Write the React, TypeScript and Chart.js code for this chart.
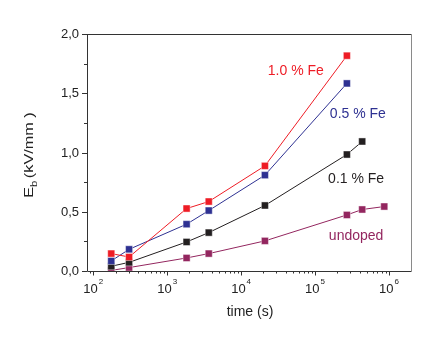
import React, { useEffect, useRef } from "react";
import { Chart, registerables } from "chart.js";

Chart.register(...registerables);

// ---- data ----
const timesRed = [175, 305, 1830, 3650, 21000, 270000];
const valuesRed = [0.147, 0.118, 0.527, 0.586, 0.887, 1.817];
const timesBlue = [175, 305, 1830, 3650, 21000, 270000];
const valuesBlue = [0.085, 0.183, 0.395, 0.51, 0.809, 1.583];
const timesBlack = [175, 305, 1830, 3650, 21000, 270000, 435000];
const valuesBlack = [0.04, 0.073, 0.245, 0.324, 0.553, 0.983, 1.093];
const timesUndoped = [175, 305, 1830, 3650, 21000, 270000, 435000, 865000];
const valuesUndoped = [0.005, 0.029, 0.11, 0.147, 0.254, 0.473, 0.519, 0.544];

const seriesNames = ["1.0 % Fe", "0.5 % Fe", "0.1 % Fe", "undoped"];
const seriesColors = ["#ee1c25", "#2e3192", "#231f20", "#93265f"];
// label anchors in data coordinates [time, value]
const labelAnchors: [number, number][] = [
  [55000, 1.69],
  [380000, 1.322],
  [360000, 0.776],
  [360000, 0.29],
];

const yTicks = [0, 0.5, 1.0, 1.5, 2.0];
const yTickLabels = ["0,0", "0,5", "1,0", "1,5", "2,0"];
const xDecades = [2, 3, 4, 5, 6];
const xMin = 82.2;
const xMax = 1.99e6;
const yMin = 0;
const yMax = 2.0;

const FONT = '"Liberation Sans", Arial, sans-serif';

const toPoints = (t: number[], v: number[]) => t.map((x, i) => ({ x, y: v[i] }));

const decorPlugin = {
  id: "decor",
  afterDatasetsDraw(chart: any) {
    const ctx: CanvasRenderingContext2D = chart.ctx;
    const { left, right, top, bottom } = chart.chartArea;
    const xs = chart.scales.x;
    const ys = chart.scales.y;
    ctx.save();
    ctx.lineWidth = 1;
    // frame
    ctx.strokeStyle = "#333";
    ctx.beginPath();
    ctx.moveTo(left + 0.5, top + 0.5);
    ctx.lineTo(right + 0.5, top + 0.5);
    ctx.moveTo(left + 0.5, top);
    ctx.lineTo(left + 0.5, bottom + 0.5);
    ctx.lineTo(right + 0.5, bottom + 0.5);
    ctx.stroke();
    ctx.strokeStyle = "#8a8a8a";
    ctx.beginPath();
    ctx.moveTo(right + 0.5, top);
    ctx.lineTo(right + 0.5, bottom + 0.5);
    ctx.stroke();

    // y ticks
    ctx.strokeStyle = "#333";
    ctx.fillStyle = "#222";
    ctx.font = `13px ${FONT}`;
    ctx.textAlign = "right";
    ctx.textBaseline = "middle";
    ctx.beginPath();
    for (let v = yMin; v <= yMax + 1e-9; v += 0.25) {
      const py = Math.round(ys.getPixelForValue(v)) + 0.5;
      const major = Math.abs(v * 2 - Math.round(v * 2)) < 1e-6;
      ctx.moveTo(left - (major ? 5 : 3), py);
      ctx.lineTo(left, py);
    }
    ctx.stroke();
    yTicks.forEach((v, i) => {
      const py = ys.getPixelForValue(v);
      ctx.fillText(yTickLabels[i], left - 8, py + 0.5);
    });

    // x ticks
    ctx.beginPath();
    for (let k = 1; k <= 6; k++) {
      for (let m = 1; m <= 9; m++) {
        const val = m * Math.pow(10, k);
        if (val < xMin || val > xMax) continue;
        const px = Math.round(xs.getPixelForValue(val)) + 0.5;
        ctx.moveTo(px, bottom);
        ctx.lineTo(px, bottom + (m === 1 ? 4.5 : 2.5));
      }
    }
    ctx.stroke();
    ctx.textBaseline = "alphabetic";
    ctx.textAlign = "left";
    xDecades.forEach((d) => {
      const px = xs.getPixelForValue(Math.pow(10, d));
      ctx.font = `13px ${FONT}`;
      const wBase = ctx.measureText("10").width;
      ctx.font = `8px ${FONT}`;
      const wExp = ctx.measureText(String(d)).width;
      const start = px - (wBase + wExp + 1) / 2;
      ctx.font = `13px ${FONT}`;
      ctx.fillText("10", start, bottom + 22);
      ctx.font = `8px ${FONT}`;
      ctx.fillText(String(d), start + wBase + 1, bottom + 13);
    });

    // axis titles
    ctx.font = `14px ${FONT}`;
    ctx.textAlign = "center";
    ctx.textBaseline = "middle";
    ctx.fillText("time (s)", (left + right) / 2 + 1, bottom + 41);

    ctx.save();
    ctx.translate(33, 155);
    ctx.rotate(-Math.PI / 2);
    ctx.scale(1.25, 1);
    ctx.textAlign = "left";
    ctx.textBaseline = "alphabetic";
    ctx.font = `13px ${FONT}`;
    const wE = ctx.measureText("E").width;
    const rest = "(kV/mm )";
    const wRest = ctx.measureText(rest).width;
    ctx.font = `9px ${FONT}`;
    const wb = ctx.measureText("b").width;
    const total = wE + wb + 2 + wRest;
    const startX = -total / 2;
    ctx.font = `13px ${FONT}`;
    ctx.fillText("E", startX, 0);
    ctx.font = `9px ${FONT}`;
    ctx.fillText("b", startX + wE, 4);
    ctx.font = `13px ${FONT}`;
    ctx.fillText(rest, startX + wE + wb + 2, 0);
    ctx.restore();

    // series labels
    ctx.font = `14px ${FONT}`;
    ctx.textAlign = "center";
    ctx.textBaseline = "middle";
    seriesNames.forEach((name, i) => {
      ctx.fillStyle = seriesColors[i];
      const [tx, ty] = labelAnchors[i];
      ctx.fillText(name, xs.getPixelForValue(tx), ys.getPixelForValue(ty));
    });
    ctx.restore();
  },
};

export default function App() {
  const ref = useRef<HTMLCanvasElement | null>(null);
  useEffect(() => {
    document.body.style.margin = "0";
    if (!ref.current) return;
    const mk = (i: number, t: number[], v: number[]) => ({
      label: seriesNames[i],
      data: toPoints(t, v),
      borderColor: seriesColors[i],
      backgroundColor: seriesColors[i],
      borderWidth: 1,
      pointStyle: "rect",
      pointRadius: 5,
      pointHoverRadius: 5,
      pointBackgroundColor: seriesColors[i],
      pointBorderColor: "rgba(255,255,255,0.55)",
      pointBorderWidth: 0.8,
      tension: 0,
      clip: 0,
    });
    const chart = new Chart(ref.current, {
      type: "line",
      data: {
        datasets: [
          mk(0, timesRed, valuesRed),
          mk(1, timesBlue, valuesBlue),
          mk(2, timesBlack, valuesBlack),
          mk(3, timesUndoped, valuesUndoped),
        ] as any,
      },
      options: {
        animation: false,
        responsive: false,
        devicePixelRatio: 1,
        layout: { padding: { left: 87, right: 25, top: 34, bottom: 78 } },
        plugins: { legend: { display: false }, tooltip: { enabled: false } },
        events: [],
        scales: {
          x: { type: "logarithmic", min: xMin, max: xMax, display: false },
          y: { type: "linear", min: yMin, max: yMax, display: false },
        },
      },
      plugins: [decorPlugin],
    });
    return () => chart.destroy();
  }, []);
  return (
    <div style={{ width: 436, height: 349, background: "#fff" }}>
      <canvas ref={ref} width={436} height={349} style={{ display: "block" }} />
    </div>
  );
}
